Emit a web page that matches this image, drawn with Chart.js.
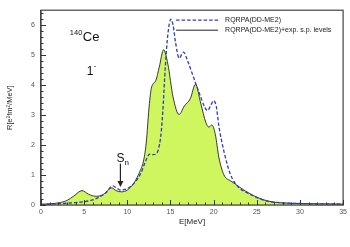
<!DOCTYPE html>
<html>
<head>
<meta charset="utf-8">
<script src="https://cdn.jsdelivr.net/npm/chart.js@4"></script>
<style>
html,body{margin:0;padding:0;background:#fff;}
canvas{display:block;}
</style>
</head>
<body>
<canvas id="c" width="350" height="247"></canvas>
<script>
// Energies (MeV) and strengths for RQRPA(DD-ME2) (dashed)
const dashedE = [0, 2, 3, 4, 5, 6, 6.8, 7.5, 8.3, 8.8, 9.2, 9.7, 10.3, 11.0, 11.6, 12.1, 12.6, 13.0, 13.4, 13.75, 13.95, 14.15, 14.4, 14.7, 15.05, 15.3, 15.6, 16.0, 16.5, 17.0, 17.5, 18.3, 19.0, 19.3, 19.7, 20.0, 20.3, 20.6, 21.2, 21.95, 22.9, 23.8, 24.6, 26.2, 28, 30, 35];
const dashedR = [0.02, 0.04, 0.06, 0.08, 0.11, 0.17, 0.27, 0.4, 0.64, 0.56, 0.5, 0.52, 0.6, 0.8, 1.08, 1.45, 1.7, 1.68, 1.72, 2.05, 2.5, 3.3, 4.6, 5.7, 6.2, 6.0, 5.4, 4.9, 5.1, 4.8, 4.4, 3.76, 3.25, 3.15, 3.35, 3.48, 3.3, 2.65, 1.78, 1.02, 0.59, 0.42, 0.3, 0.13, 0.07, 0.05, 0.03];
// RQRPA(DD-ME2)+exp. s.p. levels (solid, filled)
const solidE = [0, 1, 2, 3, 3.8, 4.75, 5.5, 6.4, 7.2, 8.2, 8.7, 9.3, 10, 10.8, 11.5, 11.9, 12.2, 12.5, 12.75, 13.0, 13.3, 13.7, 14.2, 14.7, 15.3, 16.0, 16.6, 17.3, 17.9, 18.5, 19.1, 19.45, 19.8, 20.2, 20.6, 21.2, 22.0, 22.5, 23.5, 24.6, 25.7, 26.9, 28, 30, 32, 35];
const solidR = [0.02, 0.04, 0.07, 0.15, 0.3, 0.48, 0.36, 0.29, 0.35, 0.57, 0.48, 0.44, 0.5, 0.75, 1.15, 1.5, 2.1, 3.2, 3.85, 4.05, 4.15, 4.6, 5.18, 4.7, 3.6, 3.02, 3.3, 3.55, 4.03, 3.4, 2.75, 2.6, 2.67, 2.35, 1.6, 1.0, 0.8, 0.7, 0.5, 0.32, 0.18, 0.1, 0.07, 0.05, 0.04, 0.03];
const seriesNames = ["RQRPA(DD-ME2)", "RQRPA(DD-ME2)+exp. s.p. levels"];
const xTicks = [0, 5, 10, 15, 20, 25, 30, 35];
const yTicks = [0, 1, 2, 3, 4, 5, 6];
const xTitle = "E[MeV]";
const yTitle = "R[e\u00B2fm\u00B2/MeV]";
const nucleus = {mass: "140", sym: "Ce"};
const multipole = {main: "1", sup: "-"};
const snLabel = {main: "S", sub: "n", E: 9.2, yTop: 1.38, yBot: 0.6};

const FONT = "'Liberation Sans', Arial, sans-serif";
const toPts = (xs, ys) => xs.map((x, i) => ({x: x, y: ys[i]}));

const decor = {
  id: 'decor',
  afterDatasetsDraw(chart) {
    const ctx = chart.ctx, a = chart.chartArea;
    const xs = chart.scales.x, ys = chart.scales.y;
    ctx.save();
    // frame
    ctx.strokeStyle = '#444'; ctx.lineWidth = 1.2;
    ctx.strokeRect(a.left, a.top, a.right - a.left, a.bottom - a.top);
    // inward ticks
    ctx.lineWidth = 1; ctx.strokeStyle = '#333';
    ctx.beginPath();
    for (let v = 0; v <= 35; v++) {
      const px = Math.round(xs.getPixelForValue(v)) + 0.5;
      const len = (v % 5 === 0) ? 5 : 2.5;
      ctx.moveTo(px, a.bottom); ctx.lineTo(px, a.bottom - len);
    }
    for (let k = 0; k <= 32; k++) {
      const v = k * 0.2;
      const py = Math.round(ys.getPixelForValue(v)) + 0.5;
      const len = (k % 5 === 0) ? 5 : 2.5;
      ctx.moveTo(a.left, py); ctx.lineTo(a.left + len, py);
    }
    ctx.stroke();

    // nucleus label
    ctx.fillStyle = '#111';
    ctx.textBaseline = 'alphabetic';
    ctx.textAlign = 'left';
    let nx = xs.getPixelForValue(4.85), ny = ys.getPixelForValue(5.48);
    ctx.font = '13px ' + FONT;
    ctx.fillText(nucleus.sym, nx, ny);
    ctx.font = '7.5px ' + FONT;
    ctx.textAlign = 'right';
    ctx.fillText(nucleus.mass, nx - 0.5, ny - 5.5);
    // multipole
    ctx.textAlign = 'left';
    let mx = xs.getPixelForValue(5.3), my = ys.getPixelForValue(4.35);
    ctx.font = '12px ' + FONT;
    ctx.fillText(multipole.main, mx, my);
    ctx.font = '8px ' + FONT;
    ctx.fillText(multipole.sup, mx + 7, my - 7);

    // Sn arrow
    const ax = xs.getPixelForValue(snLabel.E);
    const at = ys.getPixelForValue(snLabel.yTop), ab = ys.getPixelForValue(snLabel.yBot);
    ctx.strokeStyle = '#222'; ctx.lineWidth = 1.2;
    ctx.beginPath(); ctx.moveTo(ax, at); ctx.lineTo(ax, ab - 5); ctx.stroke();
    ctx.fillStyle = '#222';
    ctx.beginPath(); ctx.moveTo(ax - 3, ab - 6); ctx.lineTo(ax + 3, ab - 6); ctx.lineTo(ax, ab); ctx.closePath(); ctx.fill();
    ctx.fillStyle = '#111';
    ctx.font = '12px ' + FONT; ctx.textAlign = 'center';
    ctx.fillText(snLabel.main, ax, at - 2);
    ctx.font = '8px ' + FONT; ctx.textAlign = 'left';
    ctx.fillText(snLabel.sub, ax + 4, at + 1);

    // legend
    const lx0 = a.right - 167, lx1 = a.right - 125, tx = a.right - 118;
    const ly0 = a.top + 10, ly1 = a.top + 20;
    ctx.lineWidth = 1.2; ctx.strokeStyle = 'rgb(45,60,190)';
    ctx.setLineDash([3.5, 2]);
    ctx.beginPath(); ctx.moveTo(lx0, ly0); ctx.lineTo(lx1, ly0); ctx.stroke();
    ctx.setLineDash([]);
    ctx.lineWidth = 1; ctx.strokeStyle = '#222';
    ctx.beginPath(); ctx.moveTo(lx0, ly1); ctx.lineTo(lx1, ly1); ctx.stroke();
    ctx.font = '7px ' + FONT; ctx.fillStyle = '#222'; ctx.textBaseline = 'middle';
    ctx.fillText(seriesNames[0], tx, ly0);
    ctx.fillText(seriesNames[1], tx, ly1);
    ctx.restore();
  }
};

new Chart(document.getElementById('c'), {
  type: 'line',
  data: {
    datasets: [
      {
        label: seriesNames[0],
        data: toPts(dashedE, dashedR),
        borderColor: 'rgb(45,60,190)',
        borderWidth: 1.3,
        borderDash: [3.5, 2],
        pointRadius: 0,
        fill: false,
        cubicInterpolationMode: 'monotone'
      },
      {
        label: seriesNames[1],
        data: toPts(solidE, solidR),
        borderColor: '#222',
        borderWidth: 0.9,
        backgroundColor: 'rgb(208,246,95)',
        pointRadius: 0,
        fill: 'origin',
        cubicInterpolationMode: 'monotone'
      }
    ]
  },
  options: {
    responsive: false,
    animation: false,
    events: [],
    layout: {padding: {top: 5, right: 5, bottom: 20, left: 0}},
    plugins: {legend: {display: false}, tooltip: {enabled: false}},
    scales: {
      x: {
        type: 'linear', min: 0, max: 35,
        afterBuildTicks: s => { s.ticks = xTicks.map(v => ({value: v})); },
        ticks: {font: {size: 7, family: FONT}, color: '#555', padding: 3, maxRotation: 0},
        grid: {display: false, drawTicks: false},
        border: {display: true, color: '#444', width: 1.2},
        title: {display: true, text: xTitle, font: {size: 8, family: FONT}, color: '#222', padding: {top: 2, bottom: 0}},
        afterFit: s => { s.height = 22; }
      },
      y: {
        type: 'linear', min: 0, max: 6.5,
        afterBuildTicks: s => { s.ticks = yTicks.map(v => ({value: v})); },
        ticks: {font: {size: 7, family: FONT}, color: '#555', padding: 6},
        grid: {display: false, drawTicks: false},
        border: {display: true, color: '#444', width: 1.2},
        title: {display: true, text: yTitle, font: {size: 7.5, family: FONT}, color: '#222', padding: {top: 5, bottom: 0}},
        afterFit: s => { s.width = 41; }
      }
    }
  },
  plugins: [decor]
});
</script>
</body>
</html>
